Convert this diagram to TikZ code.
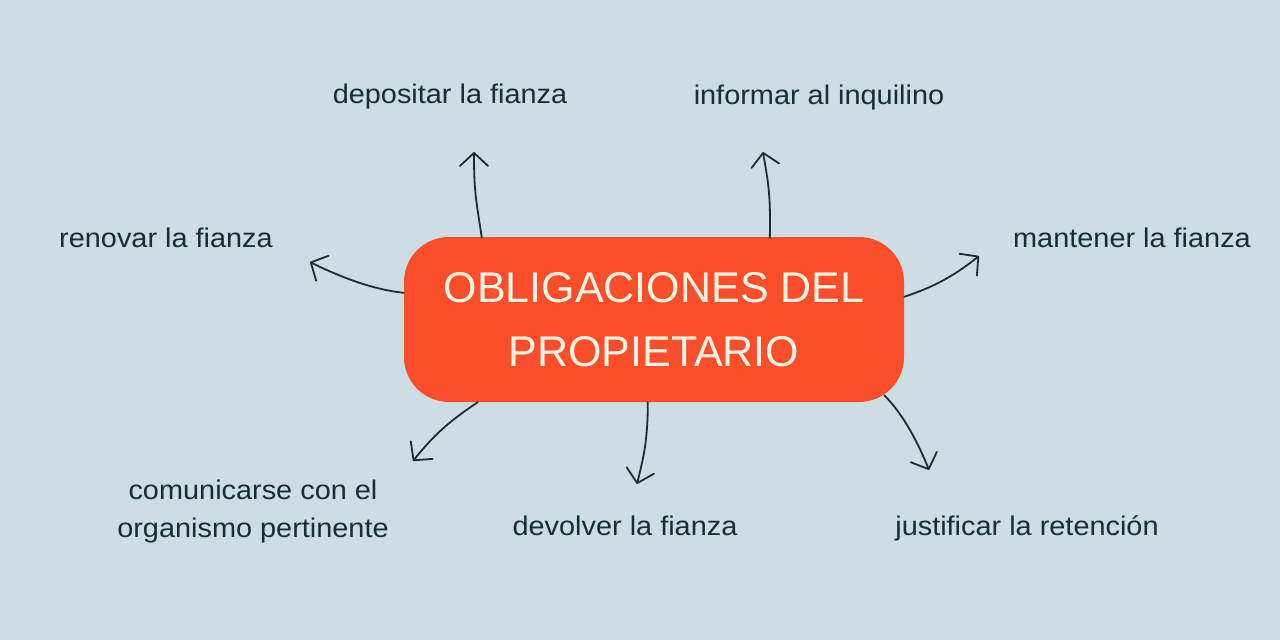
\documentclass[tikz,border=0pt]{standalone}
\usepackage{fontspec}
\setmainfont{Liberation Sans}
\newfontfamily\labelfont[FakeStretch=1.07]{Liberation Sans}
\usetikzlibrary{arrows.meta}
\definecolor{bg}{HTML}{CEDCE4}
\definecolor{boxred}{HTML}{FD4E2C}
\definecolor{cream}{HTML}{FFF4E4}
\definecolor{ink}{HTML}{14302F}
\definecolor{arrowink}{HTML}{1A2E35}
\tikzset{
  lbl/.style={text=ink, font=\labelfont\fontsize{27}{38}\selectfont, inner sep=0pt, align=center},
  arr/.style={draw=arrowink, line width=1.8pt, line cap=round,
    -{Straight Barb[length=13pt,width=28pt,line width=1.8pt,round]}},
  titlebox/.style={fill=boxred, draw=none, rounded corners=45pt,
    minimum width=500pt, minimum height=165pt, text=cream, align=center,
    font=\fontsize{43}{64}\selectfont, inner sep=0pt}
}
\begin{document}
\begin{tikzpicture}[x=1pt,y=-1pt]
\path[fill=bg, use as bounding box] (0,0) rectangle (1280,640);

\node[titlebox] (box) at (654,319.5) {OBLIGACIONES DEL\\PROPIETARIO};

\node[lbl, anchor=base] (l1) at (450,103) {depositar la fianza};
\node[lbl, anchor=base] (l2) at (819,104) {informar al inquilino};
\node[lbl, anchor=base] (l3) at (166,247) {renovar la fianza};
\node[lbl, anchor=base] (l4) at (1132,247) {mantener la fianza};
\node[lbl] (l5) at (253,512) {comunicarse con el\\organismo pertinente};
\node[lbl, anchor=base] (l6) at (625,535) {devolver la fianza};
\node[lbl, anchor=base] (l7) at (1027,535) {justificar la retención};

\coordinate (t1) at (474,152);
\coordinate (t2) at (763,152);
\coordinate (t3) at (310,262);
\coordinate (t4) at (979,256);
\coordinate (t5) at (413,461);
\coordinate (t6) at (637,484);
\coordinate (t7) at (929,470);

\draw[arr] ([xshift=78pt,yshift=-1pt]box.north west) .. controls +(-6,-40) and +(0,40) .. (t1);
\draw[arr] ([xshift=366pt,yshift=-1pt]box.north west) .. controls +(1,-45) and +(5,30) .. (t2);
\draw[arr] ([yshift=-56pt]box.north west) .. controls +(-30,-3) and +(30,15) .. (t3);
\draw[arr] ([yshift=-60pt]box.north east) .. controls +(30,-10) and +(-25,20) .. (t4);
\draw[arr] ([xshift=74pt]box.south west) .. controls +(-30,20) and +(20,-25) .. (t5);
\draw[arr] ([xshift=244pt]box.south west) .. controls +(0,40) and +(6,-25) .. (t6);
\draw[arr] ([xshift=-20pt,yshift=7pt]box.south east) .. controls +(20,20) and +(-10,-25) .. (t7);
\end{tikzpicture}
\end{document}
